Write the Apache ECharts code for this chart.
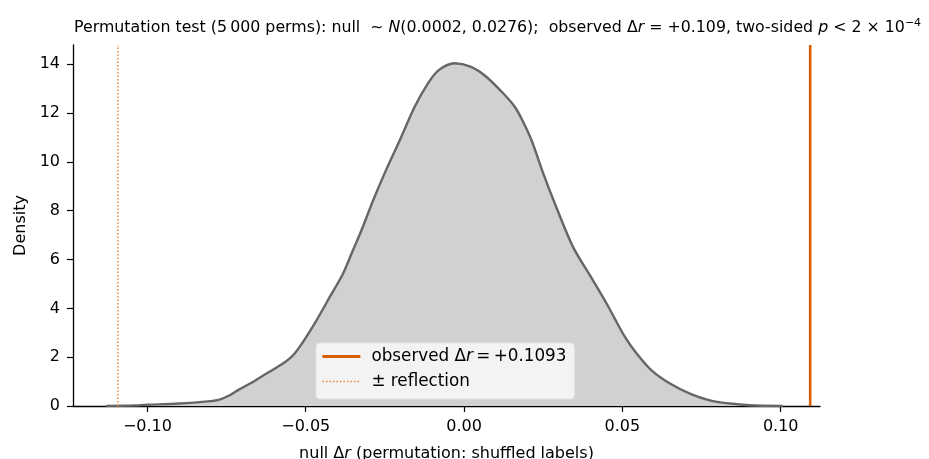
<!DOCTYPE html>
<html>
<head>
<meta charset="utf-8">
<script src="https://cdn.jsdelivr.net/npm/echarts@6/dist/echarts.min.js"></script>
<style>
html, body { margin: 0; padding: 0; background: #fff; }
#main { width: 929px; height: 459px; }
</style>
</head>
<body>
<div id="main"></div>
<script>
// null distribution KDE
const kdeX = [-0.113, -0.105, -0.100, -0.090, -0.080, -0.0775, -0.074, -0.071, -0.0676, -0.0624,
              -0.0572, -0.054, -0.0509, -0.0466, -0.0424, -0.0382, -0.0351, -0.0324, -0.0287, -0.0251,
              -0.0203, -0.0156, -0.0114, -0.008, -0.003, 0.002, 0.007, 0.013, 0.016, 0.0184,
              0.0213, 0.025, 0.0285, 0.0344, 0.0407, 0.045, 0.0508, 0.0545, 0.0592, 0.065,
              0.0713, 0.0776, 0.084, 0.090, 0.1006];
const kdeY = [0, 0.02, 0.05, 0.10, 0.20, 0.25, 0.44, 0.68, 0.92, 1.33,
              1.74, 2.08, 2.62, 3.51, 4.47, 5.43, 6.38, 7.20, 8.43, 9.53,
              10.89, 12.26, 13.22, 13.76, 14.04, 13.90, 13.49, 12.72, 12.26, 11.71,
              10.89, 9.53, 8.35, 6.52, 5.15, 4.20, 2.83, 2.15, 1.46, 0.92,
              0.51, 0.23, 0.10, 0.03, 0];

const observed = 0.1093;
const xTicks = [-0.10, -0.05, 0.00, 0.05, 0.10];
const yTicks = [0, 2, 4, 6, 8, 10, 12, 14];

const xMin = -0.1235, xMax = 0.1124;
const yMin = 0, yMax = 14.79;

const font = 'DejaVu Sans';
const orange = '#d95f02';
const lightOrange = '#e8893f';

let chart = echarts.init(document.getElementById('main'));

let curve = kdeX.map((x, i) => [x, kdeY[i]]);

function txt(size, italic) {
    return { fontFamily: font, fontSize: size, fontWeight: 'normal', fontStyle: italic ? 'italic' : 'normal', color: '#000' };
}

let option = {
    animation: false,
    backgroundColor: '#ffffff',
    textStyle: { fontFamily: font, color: '#000' },
    title: {
        left: 69,
        top: 13,
        text: '{t|Permutation test (5\u2009000 perms): null  ~ }{i|N}{t|(0.0002, 0.0276);  observed \u0394}{i|r}{t| = +0.109, two-sided }{i|p}{t| < 2 × 10}{s|\u22124}',
        textStyle: {
            fontWeight: 'normal',
            rich: {
                t: txt(15.8, false),
                i: txt(15.8, true),
                s: Object.assign(txt(11, false), { verticalAlign: 'top', padding: [0, 0, 8, 0] })
            }
        }
    },
    grid: { left: 73, right: 109, top: 45, bottom: 53, outerBoundsMode: 'none' },
    legend: {
        left: 316,
        top: 343,
        orient: 'vertical',
        data: [
            { name: 'observed', lineStyle: { width: 2.8 } },
            { name: 'reflection', lineStyle: { width: 1.5 } }
        ],
        itemWidth: 38,
        itemHeight: 14,
        itemGap: 8,
        padding: [5, 8, 9, 5],
        backgroundColor: '#f3f3f3',
        borderColor: '#e4e4e4',
        borderWidth: 1,
        borderRadius: 4,
        itemStyle: { opacity: 0 },
        formatter: function (name) {
            if (name === 'observed') return '{a|observed \u0394}{i|r}{a|\u2009=\u2009+0.1093}';
            return '{a|\u00b1 reflection}';
        },
        textStyle: {
            padding: [0, 0, 0, 6],
            rich: {
                a: txt(16.8, false),
                i: txt(16.8, true)
            }
        }
    },
    xAxis: {
        type: 'value',
        min: xMin,
        max: xMax,
        name: '{a|null \u0394}{i|r}{a| (permutation: shuffled labels)}',
        nameLocation: 'middle',
        nameGap: 40,
        nameTextStyle: {
            rich: { a: txt(16, false), i: txt(16, true) }
        },
        axisLine: { onZero: false, lineStyle: { color: '#000', width: 1.3 } },
        axisTick: { customValues: xTicks, length: 6, lineStyle: { color: '#000', width: 1.2 } },
        axisLabel: {
            customValues: xTicks,
            margin: 13,
            fontFamily: font,
            fontSize: 16,
            color: '#000',
            formatter: function (v) {
                return (v < 0 ? '\u2212' : '') + Math.abs(v).toFixed(2);
            }
        },
        splitLine: { show: false }
    },
    yAxis: {
        type: 'value',
        min: yMin,
        max: yMax,
        name: 'Density',
        nameLocation: 'middle',
        nameGap: 42,
        nameTextStyle: { fontFamily: font, fontSize: 16, color: '#000' },
        axisLine: { show: true, onZero: false, lineStyle: { color: '#000', width: 1.3 } },
        axisTick: { show: true, customValues: yTicks, length: 6, lineStyle: { color: '#000', width: 1.2 } },
        axisLabel: {
            customValues: yTicks,
            margin: 13,
            fontFamily: font,
            fontSize: 16,
            color: '#000'
        },
        splitLine: { show: false }
    },
    series: [
        {
            name: 'null',
            type: 'line',
            data: curve,
            smooth: 0.3,
            showSymbol: false,
            symbol: 'none',
            lineStyle: { color: '#666666', width: 2.4 },
            areaStyle: { color: '#d1d1d1', opacity: 1 },
            z: 2
        },
        {
            name: 'observed',
            type: 'line',
            data: [[observed, yMin], [observed, yMax]],
            symbol: 'none',
            color: orange,
            lineStyle: { color: orange, width: 2.6 },
            z: 3
        },
        {
            name: 'reflection',
            type: 'line',
            data: [[-observed, yMin], [-observed, yMax]],
            symbol: 'none',
            color: lightOrange,
            lineStyle: { color: lightOrange, width: 1.5, type: [1.5, 2] },
            z: 3
        }
    ]
};

chart.setOption(option);
</script>
</body>
</html>
